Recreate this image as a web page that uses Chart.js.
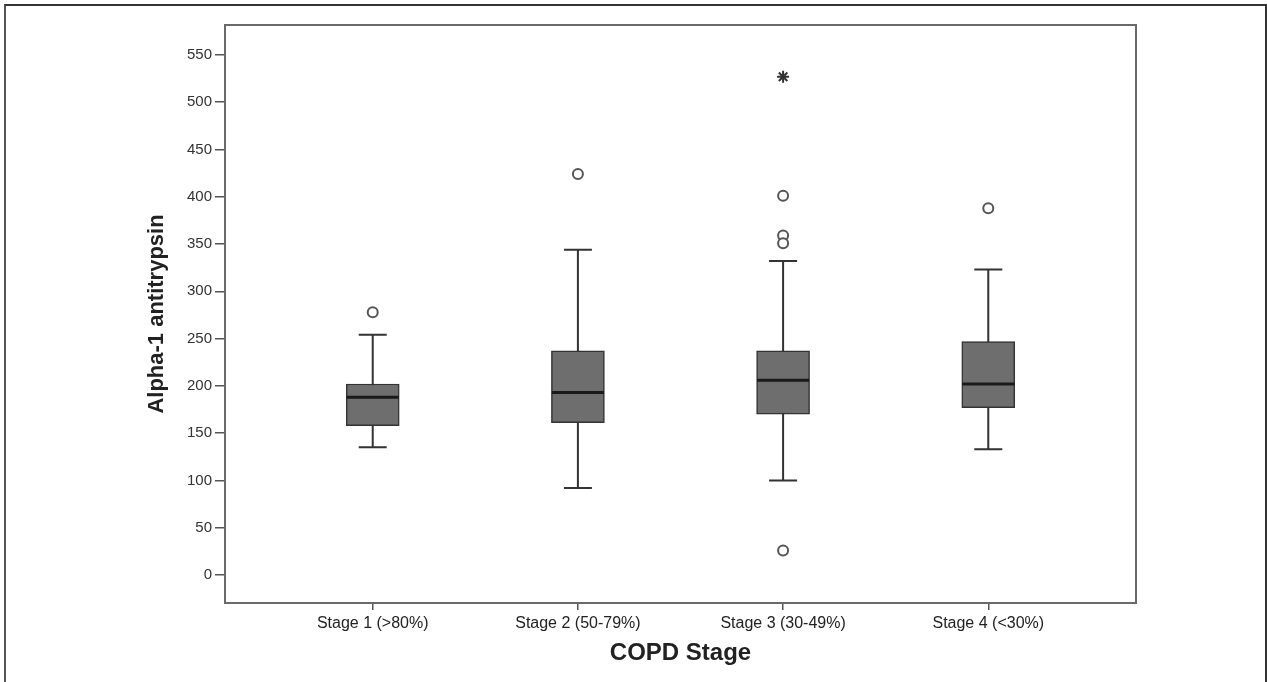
<!DOCTYPE html>
<html>
<head>
<meta charset="utf-8">
<script src="https://cdn.jsdelivr.net/npm/chart.js@4/dist/chart.umd.min.js"></script>
<style>
  html, body { margin: 0; padding: 0; background: #fff; }
  #wrap { position: relative; width: 1267px; height: 682px; }
  #frame { position: absolute; left: 4px; top: 4px; width: 1259px; height: 690px;
           border-left: 2px solid #555; border-top: 2px solid #333; border-right: 2px solid #333;
           pointer-events: none; }
</style>
</head>
<body>
<div id="wrap">
  <canvas id="myChart" width="1267" height="682"></canvas>
  <div id="frame"></div>
</div>
<script>
'use strict';
// COPD stage vs alpha-1 antitrypsin
let categories = ['Stage 1 (>80%)', 'Stage 2 (50-79%)', 'Stage 3 (30-49%)', 'Stage 4 (<30%)'];
let whiskerLow = [135, 92, 100, 133];
let q1 = [158, 161, 170, 177];
let median = [188, 193, 206, 202];
let q3 = [202, 237, 237, 247];
let whiskerHigh = [254, 344, 332, 323];
let outliers = [[278], [424], [401, 359, 351, 26], [388]];
let extremes = [[], [], [527], []];
let yTicks = [0, 50, 100, 150, 200, 250, 300, 350, 400, 450, 500, 550];

let boxData = [];
let outlierData = [];
let extremeData = [];
for (let i = 0; i < categories.length; i++) {
  boxData.push({ x: i + 1, y: [q1[i], q3[i]] });
  outliers[i].forEach(v => outlierData.push({ x: i + 1, y: v }));
  extremes[i].forEach(v => extremeData.push({ x: i + 1, y: v }));
}

// whiskers, caps, medians and frame, placed with the chart's scales
let boxExtras = {
  id: 'boxExtras',
  beforeDatasetsDraw(chart) {
    let ctx = chart.ctx;
    let xs = chart.scales.x, ys = chart.scales.y;
    ctx.save();
    ctx.strokeStyle = '#333';
    ctx.lineWidth = 2;
    for (let i = 0; i < categories.length; i++) {
      let px = xs.getPixelForValue(i + 1);
      let lo = ys.getPixelForValue(whiskerLow[i]);
      let hi = ys.getPixelForValue(whiskerHigh[i]);
      ctx.beginPath();
      ctx.moveTo(px, lo); ctx.lineTo(px, hi);
      ctx.moveTo(px - 14, lo); ctx.lineTo(px + 14, lo);
      ctx.moveTo(px - 14, hi); ctx.lineTo(px + 14, hi);
      ctx.stroke();
    }
    ctx.restore();
  },
  afterDatasetsDraw(chart) {
    let ctx = chart.ctx;
    let xs = chart.scales.x, ys = chart.scales.y;
    ctx.save();
    ctx.strokeStyle = '#1a1a1a';
    ctx.lineWidth = 3;
    for (let i = 0; i < categories.length; i++) {
      let px = xs.getPixelForValue(i + 1);
      let m = ys.getPixelForValue(median[i]);
      ctx.beginPath();
      ctx.moveTo(px - 26, m); ctx.lineTo(px + 26, m);
      ctx.stroke();
    }
    let a = chart.chartArea;
    ctx.strokeStyle = '#6a6a6a';
    ctx.lineWidth = 2;
    ctx.strokeRect(a.left, a.top, a.right - a.left, a.bottom - a.top);
    ctx.restore();
  }
};

let ctx = document.getElementById('myChart').getContext('2d');
let myChart = new Chart(ctx, {
  data: {
    datasets: [{
      type: 'bar',
      data: boxData,
      backgroundColor: '#6e6e6e',
      borderColor: '#333',
      borderWidth: 1.5,
      borderSkipped: false,
      barThickness: 53,
      order: 2
    }, {
      type: 'scatter',
      data: outlierData,
      pointStyle: 'circle',
      pointRadius: 5,
      backgroundColor: '#fff',
      borderColor: '#555',
      borderWidth: 2,
      order: 1
    }, {
      type: 'scatter',
      data: extremeData,
      pointStyle: 'star',
      pointRadius: 6,
      borderColor: '#333',
      borderWidth: 2,
      order: 1
    }]
  },
  options: {
    responsive: false,
    animation: false,
    layout: { padding: { left: 140, right: 131, top: 25, bottom: 10 } },
    plugins: { legend: { display: false }, tooltip: { enabled: false } },
    scales: {
      x: {
        type: 'linear',
        offset: false,
        min: 0.28,
        max: 4.72,
        afterBuildTicks: s => { s.ticks = categories.map((c, i) => ({ value: i + 1 })); },
        afterFit: s => { s.height = 69; },
        ticks: {
          callback: v => categories[v - 1],
          color: '#222',
          font: { family: 'Liberation Sans, Arial, sans-serif', size: 16 },
          padding: 4,
          maxRotation: 0
        },
        grid: { offset: false, drawOnChartArea: false, tickLength: 7, color: '#555', lineWidth: 1.5 },
        border: { display: false },
        title: {
          display: true,
          text: 'COPD Stage',
          color: '#222',
          font: { family: 'Liberation Sans, Arial, sans-serif', size: 24, weight: 'bold' },
          padding: { top: 4, bottom: 4 }
        }
      },
      y: {
        min: -29.6,
        max: 581.7,
        afterBuildTicks: s => { s.ticks = yTicks.map(v => ({ value: v })); },
        afterFit: s => { s.width = 85; },
        ticks: {
          color: '#333',
          font: { family: 'Liberation Sans, Arial, sans-serif', size: 15 },
          padding: 3
        },
        grid: { drawOnChartArea: false, tickLength: 10, color: '#555', lineWidth: 1.5 },
        border: { display: false },
        title: {
          display: true,
          text: 'Alpha-1 antitrypsin',
          color: '#222',
          font: { family: 'Liberation Sans, Arial, sans-serif', size: 22, weight: 'bold' },
          padding: { top: 4, bottom: 4 }
        }
      }
    }
  },
  plugins: [boxExtras]
});
</script>
</body>
</html>
